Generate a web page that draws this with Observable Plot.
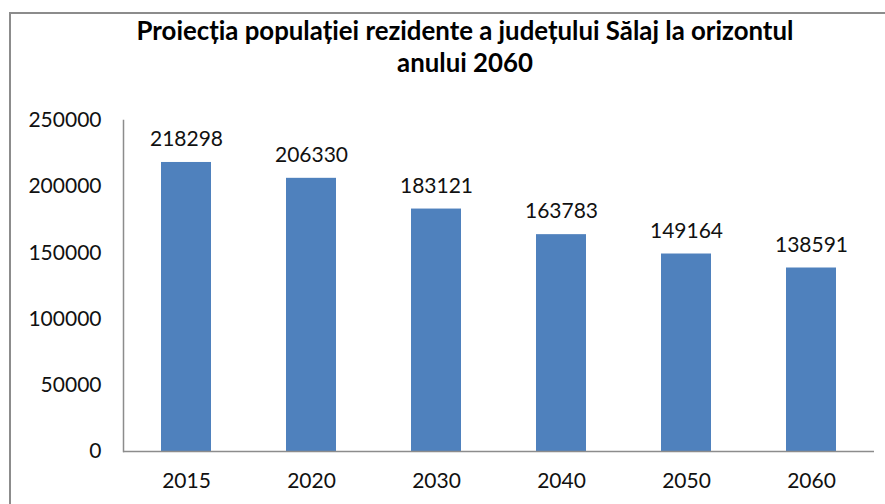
<!DOCTYPE html>
<html>
<head>
<meta charset="utf-8">
<script src="https://cdn.jsdelivr.net/npm/d3@7"></script>
<script src="https://cdn.jsdelivr.net/npm/@observablehq/plot@0.6"></script>
<style>
  html, body { margin: 0; padding: 0; background: #fff; }
  #wrap { position: relative; width: 885px; height: 504px; overflow: hidden; font-family: Lato, "Open Sans", sans-serif; }
  #frame { position: absolute; left: 9px; top: 12px; width: 1000px; height: 600px; border-top: 2px solid #8c8c8c; border-left: 2px solid #8c8c8c; box-sizing: border-box; }
  #title { position: absolute; left: 15px; width: 900px; top: 14px; text-align: center; font-weight: bold; font-size: 25.8px; line-height: 32px; color: #000; }
  #chart { position: absolute; left: 0; top: 80px; }
</style>
</head>
<body>
<div id="wrap">
  <div id="frame"></div>
  <div id="title">Proiecția populației rezidente a județului Sălaj la orizontul<br>anului 2060</div>
  <div id="chart"></div>
</div>
<script>
const years = ["2015", "2020", "2030", "2040", "2050", "2060"];
const population = [218298, 206330, 183121, 163783, 149164, 138591];
const yTicks = [0, 50000, 100000, 150000, 200000, 250000];

const data = years.map((y, i) => ({year: y, value: population[i]}));

const chart = Plot.plot({
  width: 885,
  height: 424,
  marginTop: 40,
  marginBottom: 53,
  marginLeft: 123,
  marginRight: 11,
  style: {fontFamily: "Lato, 'Open Sans', sans-serif", fontSize: "21px", color: "#111", background: "transparent"},
  x: {domain: years, paddingInner: 0.6, paddingOuter: 0.3, label: null, tickSize: 0, tickPadding: 22},
  y: {domain: [0, 250000], ticks: yTicks, tickFormat: d => String(d), label: null, tickSize: 0, tickPadding: 22},
  marks: [
    Plot.barY(data, {x: "year", y: "value", fill: "#4f81bd"}),
    Plot.ruleY([0], {stroke: "#8c8c8c", strokeWidth: 1.5}),
    Plot.frame({anchor: "left", stroke: "#8c8c8c", strokeWidth: 1.5}),
    Plot.text(data, {x: "year", y: "value", text: d => String(d.value), dy: -23, fill: "#111", fontSize: 21})
  ]
});
document.getElementById("chart").appendChild(chart);
</script>
</body>
</html>
